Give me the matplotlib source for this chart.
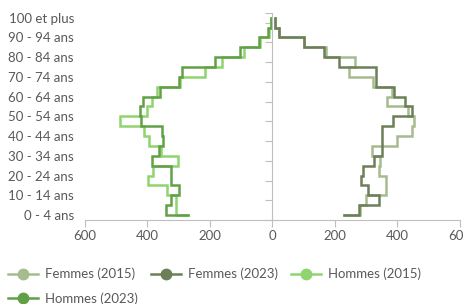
import numpy as np
import matplotlib
matplotlib.use("Agg")
import matplotlib.pyplot as plt
from matplotlib.lines import Line2D
from matplotlib.ticker import FuncFormatter

plt.rcParams["font.family"] = ["Lato", "DejaVu Sans"]

# age groups, bottom to top
categories = [
    "0 - 4 ans", "5 - 9 ans", "10 - 14 ans", "15 - 19 ans", "20 - 24 ans",
    "25 - 29 ans", "30 - 34 ans", "35 - 39 ans", "40 - 44 ans", "45 - 49 ans",
    "50 - 54 ans", "55 - 59 ans", "60 - 64 ans", "65 - 69 ans", "70 - 74 ans",
    "75 - 79 ans", "80 - 84 ans", "85 - 89 ans", "90 - 94 ans", "95 - 99 ans",
    "100 et plus",
]

femmes_2015 = [229, 280, 301, 364, 364, 340, 345, 318, 398, 446, 455,
               435, 366, 384, 323, 246, 266, 173, 100, 20, 8]
femmes_2023 = [229, 278, 342, 307, 283, 291, 326, 350, 350, 350, 387,
               446, 424, 390, 332, 332, 213, 164, 102, 22, 10]
hommes_2015 = [270, 310, 310, 338, 399, 383, 303, 357, 394, 412, 487,
               402, 385, 368, 295, 216, 160, 90, 38, 12, 4]
hommes_2023 = [270, 340, 324, 300, 325, 325, 385, 362, 350, 352, 422,
               424, 413, 361, 300, 289, 185, 105, 43, 14, 3]

series = [
    ("Femmes (2015)", femmes_2015, 1, "#A6BB8E"),
    ("Femmes (2023)", femmes_2023, 1, "#6C7F58"),
    ("Hommes (2015)", hommes_2015, -1, "#8FD46E"),
    ("Hommes (2023)", hommes_2023, -1, "#62A046"),
]

axis_col = "#BFBFBF"
text_col = "#595959"

fig = plt.figure(figsize=(4.64, 3.04), dpi=100)
ax = fig.add_axes([85 / 464, 84 / 304, 374.7 / 464, 207.3 / 304])

pos = np.arange(len(categories))
handles = {}
for name, vals, sign, col in series:
    ax.plot(sign * np.array(vals), pos, drawstyle="steps-post",
            color=col, lw=1.8, solid_joinstyle="miter")
    handles[name] = Line2D([], [], color=col, lw=1.8, marker="o", ms=7.5)

ax.set_xlim(-600, 600)
ax.set_ylim(-0.5, 20.5)

for s in ["top", "right"]:
    ax.spines[s].set_visible(False)
ax.spines["bottom"].set_color(axis_col)
ax.spines["left"].set_color(axis_col)
ax.spines["left"].set_position(("data", 0))

ax.set_xticks(np.arange(-600, 601, 200))
ax.xaxis.set_major_formatter(FuncFormatter(lambda v, p: "%d" % abs(v)))
ax.tick_params(axis="x", length=5, color=axis_col, labelcolor=text_col,
               labelsize=9.5, pad=2)

ax.set_yticks(list(np.arange(-0.5, 20, 2)) + [20.5])
ax.set_yticklabels([])
ax.tick_params(axis="y", length=5, color=axis_col)

sec = ax.secondary_yaxis("left")
sec.set_yticks(pos[::2], labels=categories[::2])
sec.tick_params(length=0, labelcolor=text_col, labelsize=9.5, pad=8)
sec.spines["left"].set_visible(False)

order = ["Femmes (2015)", "Hommes (2023)", "Femmes (2023)", "Hommes (2015)"]
fig.legend([handles[n] for n in order], order, ncol=3, loc="upper left",
           bbox_to_anchor=(0.0, 0.145), frameon=False, fontsize=9.5,
           labelcolor=text_col, handlelength=2.3, handletextpad=0.5,
           columnspacing=1.0, labelspacing=0.9, borderaxespad=0.2)

fig.savefig("out.png", dpi=100)
